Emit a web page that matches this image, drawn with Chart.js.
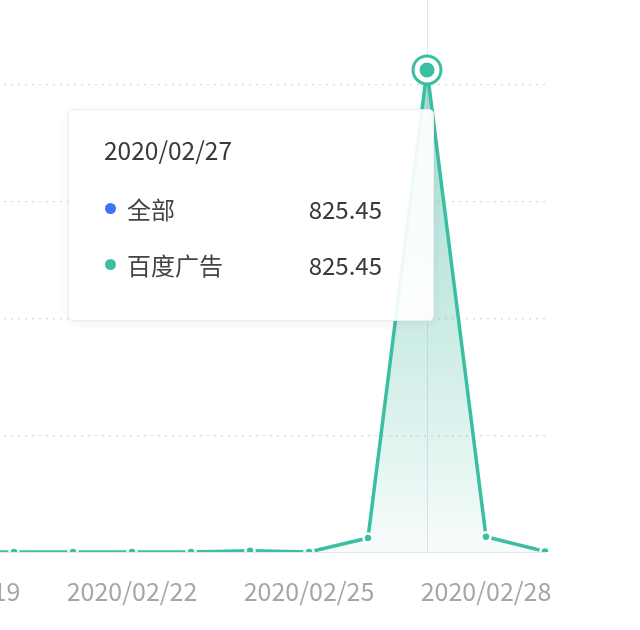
<!DOCTYPE html>
<html>
<head>
<meta charset="utf-8">
<script src="https://cdn.jsdelivr.net/npm/chart.js@4.4.1/dist/chart.umd.min.js"></script>
<style>
  html, body { margin: 0; padding: 0; background: #fff; width: 640px; height: 630px; overflow: hidden; }
  #wrap { position: absolute; left: -145px; top: -52px; width: 785px; height: 682px; }
  #c { display: block; width: 785px; height: 682px; }
  #tip {
    position: absolute; display: none; box-sizing: border-box;
    width: 366px; height: 212px; padding: 28px 51px 0 35px;
    background: rgba(255,255,255,0.92);
    border: 1px solid #ebedf3; border-radius: 5px;
    box-shadow: 0 2px 10px rgba(40,50,80,0.07);
    font-family: "Noto Sans CJK SC", "Noto Sans", sans-serif; font-size: 24px; color: #3a3a3a;
    pointer-events: none;
  }
  #tip .t { height: 24px; line-height: 24px; margin-top: 0; margin-bottom: 19px; font-size: 24.5px; }
  #tip .r { height: 56px; line-height: 56px; display: flex; align-items: center; }
  #tip .d { width: 11px; height: 11px; border-radius: 50%; margin: 0 11px 0 1px; flex: none; }
  #tip .n { flex: 1; color: #444; }
  #tip .v { color: #3a3a3a; }
</style>
</head>
<body>
<div id="wrap">
  <canvas id="c" width="785" height="682"></canvas>
  <div id="tip"></div>
</div>
<script>
const categories = ['2020/02/19','2020/02/20','2020/02/21','2020/02/22','2020/02/23','2020/02/24','2020/02/25','2020/02/26','2020/02/27','2020/02/28','2020/02/29'];
const seriesNames = ['全部', '百度广告'];
const allValues   = [0, 0, 0, 0, 0, 2, 0, 24, 825.45, 26, 1];
const baiduValues = [0, 0, 0, 0, 0, 2, 0, 24, 825.45, 26, 1];
const yTicks = [0, 200, 400, 600, 800, 1000];
const activeIndex = 8;

const BLUE = '#3d74f6';
const TEAL = '#3bbfa3';

function areaGradient(ctx) {
  const chart = ctx.chart;
  const ca = chart.chartArea;
  if (!ca) return 'rgba(59,191,163,0.2)';
  const top = chart.scales.y.getPixelForValue(Math.max(...baiduValues));
  const g = chart.ctx.createLinearGradient(0, top, 0, ca.bottom);
  g.addColorStop(0, 'rgba(59,180,155,0.45)');
  g.addColorStop(0.5, 'rgba(59,180,155,0.28)');
  g.addColorStop(0.8, 'rgba(59,180,155,0.14)');
  g.addColorStop(1, 'rgba(59,180,155,0.04)');
  return g;
}

const hoverLine = {
  id: 'hoverLine',
  beforeDatasetsDraw(chart) {
    const act = chart.getActiveElements();
    if (!act.length) return;
    const x = act[0].element.x;
    const { top, bottom } = chart.chartArea;
    const c = chart.ctx;
    c.save();
    c.strokeStyle = '#e6e6ea';
    c.lineWidth = 1;
    c.beginPath();
    c.moveTo(Math.round(x) + 0.5, top);
    c.lineTo(Math.round(x) + 0.5, bottom);
    c.stroke();
    c.restore();
  }
};

const activeRing = {
  id: 'activeRing',
  afterDatasetsDraw(chart) {
    const act = chart.getActiveElements().filter(a => a.datasetIndex === 1);
    const c = chart.ctx;
    act.forEach(a => {
      const { x, y } = a.element;
      c.save();
      c.beginPath(); c.arc(x, y, 15, 0, Math.PI * 2); c.fillStyle = '#fff'; c.fill();
      c.beginPath(); c.arc(x, y, 14, 0, Math.PI * 2); c.strokeStyle = TEAL; c.lineWidth = 3; c.stroke();
      c.beginPath(); c.arc(x, y, 7.5, 0, Math.PI * 2); c.fillStyle = TEAL; c.fill();
      c.restore();
    });
  }
};

function externalTooltip(context) {
  const { chart, tooltip } = context;
  const el = document.getElementById('tip');
  if (!tooltip || tooltip.opacity === 0 || !tooltip.dataPoints || !tooltip.dataPoints.length) {
    el.style.display = 'none';
    return;
  }
  el.innerHTML = '';
  const t = document.createElement('div');
  t.className = 't';
  t.textContent = (tooltip.title || []).join(' ');
  el.appendChild(t);
  tooltip.dataPoints.forEach(dp => {
    const r = document.createElement('div'); r.className = 'r';
    const d = document.createElement('span'); d.className = 'd';
    d.style.background = chart.data.datasets[dp.datasetIndex].borderColor;
    const n = document.createElement('span'); n.className = 'n'; n.textContent = dp.dataset.label;
    const v = document.createElement('span'); v.className = 'v'; v.textContent = dp.formattedValue;
    r.appendChild(d); r.appendChild(n); r.appendChild(v);
    el.appendChild(r);
  });
  el.style.left = (tooltip.caretX - 359) + 'px';
  el.style.top = (tooltip.caretY + 39) + 'px';
  el.style.display = 'block';
}

const chart = new Chart(document.getElementById('c'), {
  type: 'line',
  data: {
    labels: categories,
    datasets: [
      {
        label: seriesNames[0], data: allValues, order: 1,
        borderColor: BLUE, backgroundColor: BLUE, borderWidth: 2,
        pointRadius: 0, pointHoverRadius: 0, fill: false, tension: 0
      },
      {
        label: seriesNames[1], data: baiduValues, order: 0,
        borderColor: TEAL, backgroundColor: areaGradient, borderWidth: 3.5,
        pointRadius: 4.5, pointBorderWidth: 2.5, pointBorderColor: '#fff', pointBackgroundColor: TEAL,
        pointHoverRadius: 4.5, pointHoverBorderWidth: 2.5, pointHoverBorderColor: '#fff', pointHoverBackgroundColor: TEAL,
        fill: 'origin', tension: 0
      }
    ]
  },
  options: {
    responsive: false,
    animation: false,
    events: [],
    layout: { padding: { top: 20, right: 95, bottom: 0, left: 0 } },
    interaction: { mode: 'index', intersect: false },
    plugins: {
      legend: { display: false },
      tooltip: {
        enabled: false,
        external: externalTooltip,
        itemSort: (a, b) => a.datasetIndex - b.datasetIndex
      }
    },
    scales: {
      x: {
        grid: { display: false, drawTicks: false },
        border: { display: true, color: '#e4e6ea', width: 1 },
        ticks: {
          autoSkip: false, maxRotation: 0, padding: 24,
          color: '#a6a6a6',
          font: { family: '"Noto Sans CJK SC", "Noto Sans", sans-serif', size: 25 },
          callback: function (v, i) { return i % 3 === 0 ? this.getLabelForValue(v) : ''; }
        }
      },
      y: {
        min: yTicks[0], max: yTicks[yTicks.length - 1],
        afterFit: s => { s.width = 100; },
        afterBuildTicks: s => { s.ticks = yTicks.map(v => ({ value: v })); },
        grid: {
          drawTicks: false,
          color: ctx => (ctx.tick && ctx.tick.value === 0) ? 'rgba(0,0,0,0)' : '#d9d9d9',
          lineWidth: 1.3
        },
        border: { display: false, dash: [2, 5] },
        ticks: {
          color: '#a6a6a6', padding: 0,
          font: { family: '"Noto Sans CJK SC", "Noto Sans", sans-serif', size: 24 }
        }
      }
    }
  },
  plugins: [hoverLine, activeRing]
});

const act = [{ datasetIndex: 0, index: activeIndex }, { datasetIndex: 1, index: activeIndex }];
chart.setActiveElements(act);
const el = chart.getDatasetMeta(1).data[activeIndex];
chart.tooltip.setActiveElements(act, { x: el.x, y: el.y });
chart.update('none');
</script>
</body>
</html>
